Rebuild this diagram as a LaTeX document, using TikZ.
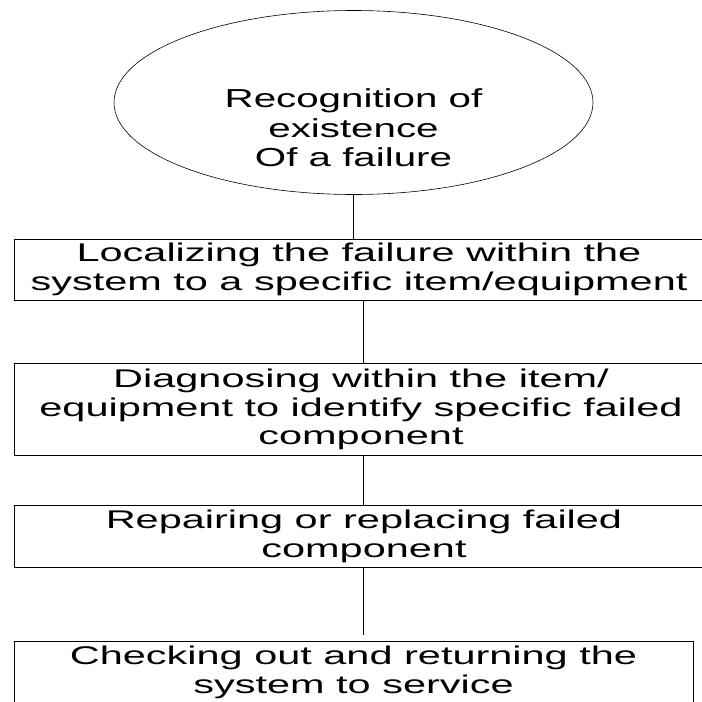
\documentclass[tikz,border=0pt]{standalone}
\usepackage{fontspec}
\newfontfamily\startfont{Liberation Sans}[FakeStretch=1.55]
\newfontfamily\stagefont{Liberation Sans}[FakeStretch=1.62]
\usetikzlibrary{shapes.geometric}
\lineskiplimit=-20pt

\tikzset{
  stagebox/.style={draw, shape=rectangle, align=center, inner sep=0pt,
    font=\stagefont\fontsize{25.6}{28.4}\selectfont},
  starttext/.style={align=center, inner sep=0pt,
    font=\startfont\fontsize{26}{29.5}\selectfont}
}

\begin{document}
\begin{tikzpicture}[x=1pt, y=-1pt, line width=0.6pt]
      \path[use as bounding box, clip] (0,0) rectangle (702,702);
      \coordinate (spine) at (363,0);
      \node at (353.5,102.5)[draw,shape=ellipse,minimum width=479pt,minimum height=184pt,inner sep=0pt] (start){};
      \node at (353.5,128)[starttext] (startlabel){Recognition of\\existence\\Of a failure};
      \node at (359,269.5)[stagebox,minimum width=690pt,minimum height=61pt] (locate){Localizing the failure within the\\system to a specific item/equipment};
      \node at (361,409.5)[stagebox,minimum width=694pt,minimum height=92pt] (diagnose){Diagnosing within the item/\\equipment to identify specific failed\\component};
      \node at (364,536.5)[stagebox,minimum width=700pt,minimum height=62pt] (repair){Repairing or replacing failed\\component};
      \node at (353.5,672.5)[stagebox,minimum width=679pt,minimum height=62pt] (checkout){Checking out and returning the\\system to service};
      \draw (start.south) -- (start.south |- locate.north);
      \draw (locate.south -| spine) -- (diagnose.north -| spine);
      \draw (diagnose.south -| spine) -- (repair.north -| spine);
      \draw (repair.south -| spine) -- ([yshift=6pt]checkout.north -| spine);
      \end{tikzpicture}
\end{document}
